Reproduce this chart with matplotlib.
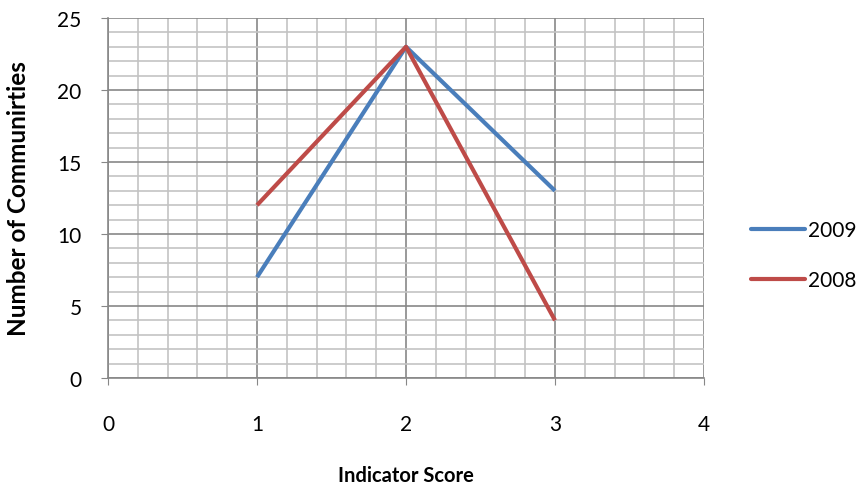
import numpy as np
from matplotlib import pyplot as plt
from matplotlib.lines import Line2D

scores = [1, 2, 3]
y2009 = [7, 23, 13]
y2008 = [12, 23, 4]
series_names = ['2009', '2008']
colors = ['#4a7ebb', '#be4b48']

plt.rcParams['font.family'] = ['Lato', 'DejaVu Sans']

fig = plt.figure(figsize=(8.65, 4.89), dpi=100)
ax = fig.add_axes([108/865, 110/489, 596/865, 360/489])

ax.plot(scores, y2009, color=colors[0], lw=3, solid_capstyle='butt', zorder=3)
ax.plot(scores, y2008, color=colors[1], lw=3, solid_capstyle='butt', zorder=3)

ax.set_xlim(0, 4)
ax.set_ylim(0, 25)
ax.set_xticks(np.arange(0, 5, 1))
ax.set_yticks(np.arange(0, 26, 5))
ax.set_xticks(np.arange(0, 4.01, 0.2), minor=True)
ax.set_yticks(np.arange(0, 25.01, 1), minor=True)
ax.grid(which='minor', color='#c3c3c3', lw=1.2, zorder=0)
ax.grid(which='major', color='#878787', lw=1.2, zorder=1)
ax.tick_params(which='minor', length=0)
ax.tick_params(which='major', length=5, color='#878787', labelsize=15)
ax.tick_params(axis='x', pad=21)
ax.tick_params(axis='y', pad=14)
for s in ['top', 'right']:
    ax.spines[s].set_visible(False)
for s in ['left', 'bottom']:
    ax.spines[s].set_color('#878787')
    ax.spines[s].set_linewidth(1.2)

ax.set_xlabel('Indicator Score', fontsize=14.5, fontweight='bold', labelpad=22)
ax.set_ylabel('Number of Communirties', fontsize=17.5, fontweight='bold', labelpad=20)

handles = [Line2D([], [], color=c, lw=3, solid_capstyle='round') for c in colors]
fig.legend(handles, series_names, loc='center left', bbox_to_anchor=(751/865, 1 - 256/489),
           frameon=False, fontsize=15, handlelength=2.6, handletextpad=0.15, labelspacing=1.45,
           borderpad=0, borderaxespad=0)

fig.savefig('out.png', dpi=100)
